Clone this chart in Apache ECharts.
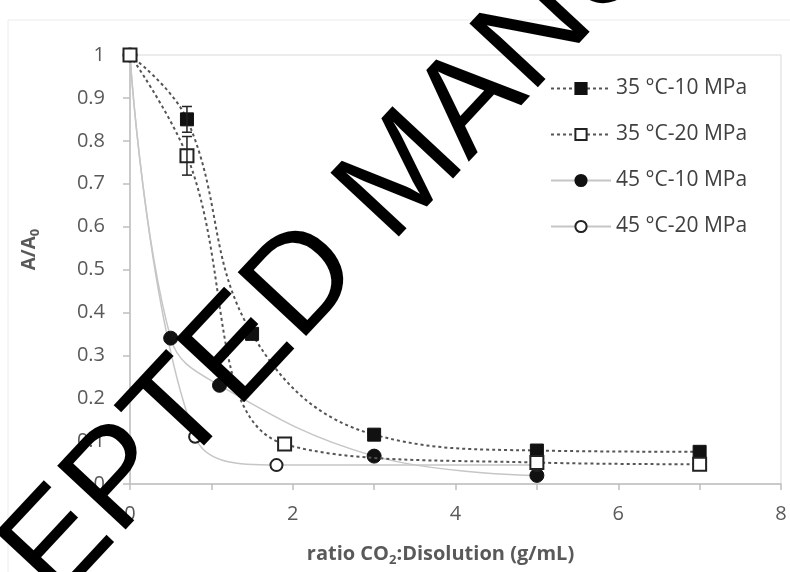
<!DOCTYPE html>
<html>
<head>
<meta charset="utf-8">
<script src="https://cdn.jsdelivr.net/npm/echarts@6/dist/echarts.min.js"></script>
<style>
  html, body { margin: 0; padding: 0; background: #fff; }
  #chart { width: 790px; height: 572px; }
</style>
</head>
<body>
<div id="chart"></div>
<script>
// ---- data ----
const seriesNames = ['35 °C-10 MPa', '35 °C-20 MPa', '45 °C-10 MPa', '45 °C-20 MPa'];
const x3510 = [0, 0.7, 1.5, 3, 5, 7];
const y3510 = [1, 0.85, 0.35, 0.115, 0.078, 0.075];
const x3520 = [0, 0.7, 1.9, 5, 7];
const y3520 = [1, 0.765, 0.093, 0.05, 0.046];
const x4510 = [0, 0.5, 1.1, 3, 5];
const y4510 = [1, 0.34, 0.23, 0.065, 0.02];
const x4520 = [0, 0.8, 1.8, 5];
const y4520 = [1, 0.11, 0.044, 0.044];
// error bars (x, y, +/-)
const errX = [0.7, 0.7];
const errY = [0.85, 0.765];
const errD = [0.03, 0.045];
const xTicks = [0, 2, 4, 6, 8];

const zip = (xs, ys) => xs.map((x, i) => [x, ys[i]]);
const FONT = '"Open Sans", "Noto Sans", sans-serif';

const chart = echarts.init(document.getElementById('chart'), null, { renderer: 'canvas' });

const dashed = { color: '#555', width: 2, type: [3, 3] };
const solid = { color: '#c6c6c6', width: 1.5, type: 'solid' };

const option = {
  animation: false,
  backgroundColor: '#fff',
  textStyle: { fontFamily: FONT },
  grid: { left: 130, right: 9, top: 55, bottom: 84, show: true, borderColor: '#d9d9d9', borderWidth: 1 },
  legend: {
    orient: 'vertical',
    left: 545, top: 73,
    itemWidth: 60, itemHeight: 14, itemGap: 25,
    textStyle: { fontSize: 21, color: '#404040', fontFamily: FONT },
    data: seriesNames
  },
  xAxis: {
    type: 'value', min: 0, max: 8, interval: 1,
    name: '{b|ratio CO}{s|2}{b|:Disolution (g/mL)}',
    nameLocation: 'middle', nameGap: 58,
    nameTextStyle: {
      padding: [0, 30, 0, 0],
      rich: {
        b: { fontSize: 20, fontWeight: 'bold', color: '#595959', fontFamily: FONT },
        s: { fontSize: 13, fontWeight: 'bold', color: '#595959', fontFamily: FONT, padding: [12, 0, 0, 0] }
      }
    },
    axisLine: { lineStyle: { color: '#bfbfbf', width: 1.5 } },
    axisTick: { show: true, length: 6, lineStyle: { color: '#bfbfbf', width: 1.5 } },
    axisLabel: {
      fontSize: 20, color: '#595959', margin: 20, fontFamily: FONT,
      formatter: v => (xTicks.indexOf(v) >= 0 ? String(v) : '')
    },
    splitLine: { show: false }
  },
  yAxis: {
    type: 'value', min: 0, max: 1, interval: 0.1,
    name: '{b|A/A}{s|0}',
    nameLocation: 'middle', nameGap: 88, nameRotate: 90,
    nameTextStyle: {
      padding: [0, 0, 0, 40],
      rich: {
        b: { fontSize: 19, fontWeight: 'bold', color: '#595959', fontFamily: FONT },
        s: { fontSize: 13, fontWeight: 'bold', color: '#595959', fontFamily: FONT, padding: [12, 0, 0, 0] }
      }
    },
    axisLine: { show: true, lineStyle: { color: '#bfbfbf', width: 1.5 } },
    axisTick: { show: true, length: 7, lineStyle: { color: '#bfbfbf', width: 1.5 } },
    axisLabel: { fontSize: 20, color: '#595959', margin: 25, fontFamily: FONT },
    splitLine: { show: false }
  },
  series: [
    {
      name: seriesNames[0], type: 'line', smooth: 0.4,
      data: zip(x3510, y3510),
      symbol: 'rect', symbolSize: 13,
      itemStyle: { color: '#111', borderColor: '#111', borderWidth: 1 },
      lineStyle: dashed, z: 3
    },
    {
      name: seriesNames[1], type: 'line', smooth: 0.4,
      data: zip(x3520, y3520),
      symbol: 'rect', symbolSize: 13,
      itemStyle: { color: '#fff', borderColor: '#222', borderWidth: 2 },
      lineStyle: dashed, z: 3
    },
    {
      name: seriesNames[2], type: 'line', smooth: 0.4,
      data: zip(x4510, y4510),
      symbol: 'circle', symbolSize: 14,
      itemStyle: { color: '#111', borderColor: '#111', borderWidth: 1 },
      lineStyle: solid, z: 2
    },
    {
      name: seriesNames[3], type: 'line', smooth: 0.4,
      data: zip(x4520, y4520),
      symbol: 'circle', symbolSize: 12,
      itemStyle: { color: '#fff', borderColor: '#222', borderWidth: 2 },
      lineStyle: solid, z: 2
    },
    {
      type: 'custom', name: 'err', silent: true, z: 4,
      data: errX.map((x, i) => [x, errY[i], errD[i]]),
      renderItem: function (params, api) {
        const x = api.value(0), y = api.value(1), d = api.value(2);
        const top = api.coord([x, y + d]);
        const bot = api.coord([x, y - d]);
        const hw = 5;
        const st = { stroke: '#222', lineWidth: 1.5 };
        return {
          type: 'group',
          children: [
            { type: 'line', shape: { x1: top[0], y1: top[1], x2: bot[0], y2: bot[1] }, style: st },
            { type: 'line', shape: { x1: top[0] - hw, y1: top[1], x2: top[0] + hw, y2: top[1] }, style: st },
            { type: 'line', shape: { x1: bot[0] - hw, y1: bot[1], x2: bot[0] + hw, y2: bot[1] }, style: st }
          ]
        };
      }
    }
  ],
  graphic: [
    { type: 'rect', shape: { x: 8, y: 20, width: 900, height: 700 }, style: { fill: 'none', stroke: '#ececec', lineWidth: 1 }, z: -1, silent: true },
    {
      type: 'text', x: 405, y: 175, rotation: 47 * Math.PI / 180, z: 100, silent: true,
      style: { text: 'ACCEPTED MANUSCRIPT', font: '136px "Liberation Sans", Arial, sans-serif', fill: '#000', align: 'center', verticalAlign: 'middle' }
    }
  ]
};
chart.setOption(option);
</script>
</body>
</html>
